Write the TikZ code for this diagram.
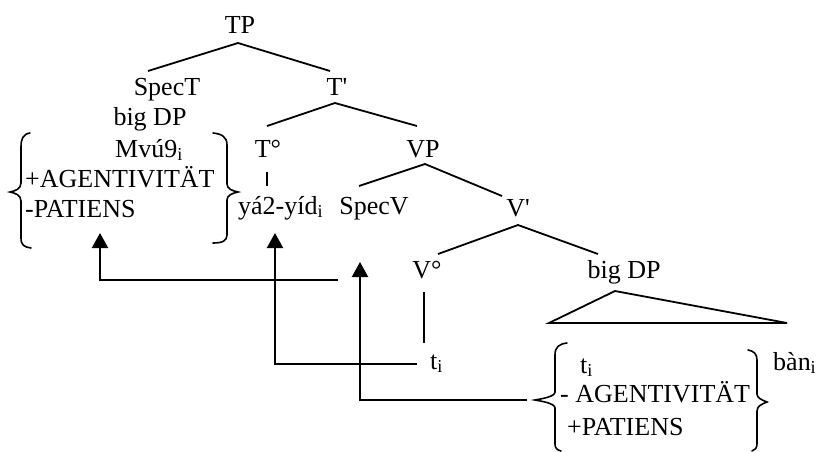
\documentclass[tikz,border=0pt]{standalone}
\usepackage{fontspec}
\setmainfont{Liberation Serif}
\usetikzlibrary{arrows.meta}
\begin{document}
\begin{tikzpicture}[x=1pt,y=-1pt,
  lbl/.style={inner sep=0pt,anchor=base,font=\fontsize{26}{30}\selectfont},
  lblw/.style={lbl,anchor=base west},
  edge/.style={line width=1.8pt},
  brace/.style={line width=1.6pt,line cap=round},
  move/.style={line width=2.2pt,-{Triangle[length=15pt,width=16pt]}}]
\useasboundingbox[fill=white] (0,0) rectangle (817,451);

% labels
\node[lbl] (TP) at (240,33) {TP};
\node[lbl] (SpecT) at (167,95) {SpecT};
\node[lbl] (Tbar) at (337,95) {T\textquotesingle};
\node[lbl] (bigDPa) at (150,125) {big DP};
\node[lbl] (Mvu) at (149,157) {Mvú9\textsubscript{i}};
\node[lblw] (agA) at (25,187) {+AGENTIVITÄT};
\node[lblw] (patA) at (25,217) {-PATIENS};
\node[lbl] (Tnull) at (268,157) {T°};
\node[lblw] (ya) at (238,214) {yá2-yíd\textsubscript{i}};
\node[lbl] (SpecV) at (374,214) {SpecV};
\node[lbl] (VP) at (423,157) {VP};
\node[lbl] (Vbar) at (518,216) {V\textquotesingle};
\node[lbl] (Vnull) at (427,278) {V°};
\node[lbl] (bigDPb) at (624,278) {big DP};
\node[lblw] (ti) at (430,369) {t\textsubscript{i}};
\node[lblw] (tiB) at (580,373) {t\textsubscript{i}};
\node[lblw] (agB) at (560,402) {- AGENTIVITÄT};
\node[lblw] (patB) at (567,435) {+PATIENS};
\node[lblw] (ban) at (773,370) {bàn\textsubscript{i}};

% tree edge points
\coordinate (tpA) at (238,43);  \coordinate (tpL) at (148,71);  \coordinate (tpR) at (330,71);
\coordinate (tbA) at (335,103); \coordinate (tbL) at (267,126); \coordinate (tbR) at (417,126);
\coordinate (t0a) at (267,172); \coordinate (t0b) at (267,186);
\coordinate (vpA) at (425,164); \coordinate (vpL) at (359,186); \coordinate (vpR) at (502,196);
\coordinate (vbA) at (518,225); \coordinate (vbL) at (438,254); \coordinate (vbR) at (598,254);
\coordinate (v0a) at (424,292); \coordinate (v0b) at (424,343);
\coordinate (trA) at (615,291); \coordinate (trL) at (549,323); \coordinate (trR) at (787,323);

\draw[edge] (tpL) -- (tpA) -- (tpR);
\draw[edge] (tbL) -- (tbA) -- (tbR);
\draw[edge] (t0a) -- (t0b);
\draw[edge] (vpL) -- (vpA) -- (vpR);
\draw[edge] (vbL) -- (vbA) -- (vbR);
\draw[edge] (v0a) -- (v0b);
\draw[edge] (trL) -- (trA) -- (trR) -- cycle;

% braces
\draw[brace] (30,133) .. controls (23,134) and (21,139) .. (21,147) -- (21,183)
  .. controls (21,189) and (15,191) .. (10,192) .. controls (15,193) and (21,195) .. (21,201)
  -- (21,238) .. controls (21,245) and (24,247) .. (31,248);
\draw[brace] (213,133) .. controls (222,134) and (227,137) .. (227,145) -- (227,184)
  .. controls (227,189) and (233,191) .. (238,192) .. controls (233,193) and (227,195) .. (227,200)
  -- (227,235) .. controls (227,241) and (222,243) .. (213,243);
\draw[brace] (567,343) .. controls (559,344) and (555,347) .. (555,355) -- (555,392)
  .. controls (555,397) and (540,399) .. (535,400) .. controls (540,401) and (555,403) .. (555,408)
  -- (555,444) .. controls (555,448) and (557,450) .. (561,451);
\draw[brace] (748,350) .. controls (754,351) and (757,354) .. (757,360) -- (757,394)
  .. controls (757,398) and (762,400) .. (767,402) .. controls (762,404) and (757,406) .. (757,411)
  -- (757,444) .. controls (757,448) and (755,450) .. (752,451);

% movement arrows
\coordinate (a1s) at (338,280); \coordinate (a1t) at (100,233);
\coordinate (a2s) at (417,364); \coordinate (a2t) at (275,233);
\coordinate (a3s) at (527,400); \coordinate (a3t) at (360,262);
\draw[move] (a1s) -| (a1t);
\draw[move] (a2s) -| (a2t);
\draw[move] (a3s) -| (a3t);
\end{tikzpicture}
\end{document}
